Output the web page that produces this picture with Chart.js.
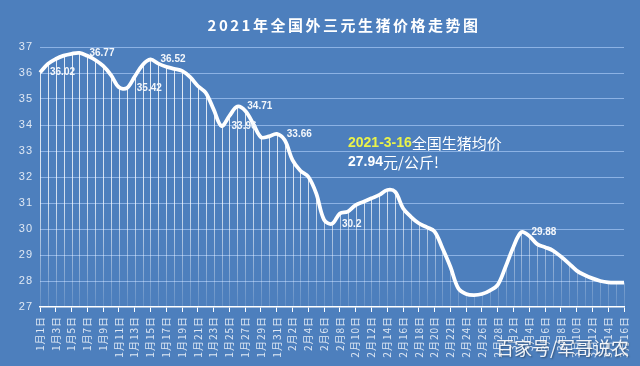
<!DOCTYPE html>
<html>
<head>
<meta charset="utf-8">
<script src="https://cdn.jsdelivr.net/npm/chart.js@4.4.1/dist/chart.umd.min.js"></script>
<style>
  body { margin: 0; background: #4d7fbd; }
  #wrap { width: 640px; height: 366px; background: #4d7fbd; }
</style>
</head>
<body>
<div id="wrap"><canvas id="pig" width="640" height="366"></canvas></div>
<script>
// daily dates 1月1日 .. 3月16日
let days = [
  '1月1日','1月2日','1月3日','1月4日','1月5日','1月6日','1月7日','1月8日','1月9日','1月10日',
  '1月11日','1月12日','1月13日','1月14日','1月15日','1月16日','1月17日','1月18日','1月19日','1月20日',
  '1月21日','1月22日','1月23日','1月24日','1月25日','1月26日','1月27日','1月28日','1月29日','1月30日','1月31日',
  '2月1日','2月2日','2月3日','2月4日','2月5日','2月6日','2月7日','2月8日','2月9日','2月10日',
  '2月11日','2月12日','2月13日','2月14日','2月15日','2月16日','2月17日','2月18日','2月19日','2月20日',
  '2月21日','2月22日','2月23日','2月24日','2月25日','2月26日','2月27日','2月28日',
  '3月1日','3月2日','3月3日','3月4日','3月5日','3月6日','3月7日','3月8日','3月9日','3月10日',
  '3月11日','3月12日','3月13日','3月14日','3月15日','3月16日'
];
// price, 元/公斤
let prices = [
  36.02, 36.35, 36.54, 36.67, 36.74, 36.77, 36.66, 36.50, 36.27, 35.92,
  35.45, 35.42, 35.86, 36.31, 36.52, 36.36, 36.24, 36.16, 36.08, 35.85,
  35.50, 35.24, 34.60, 33.96, 34.35, 34.71, 34.55, 34.06, 33.53, 33.56, 33.66,
  33.42, 32.65, 32.24, 32.01, 31.37, 30.35, 30.20, 30.60, 30.67, 30.92,
  31.05, 31.18, 31.31, 31.50, 31.43, 30.80, 30.47, 30.22, 30.07, 29.90,
  29.26, 28.55, 27.72, 27.50, 27.46, 27.50, 27.63, 27.85,
  28.55, 29.32, 29.88, 29.73, 29.42, 29.30, 29.17, 28.94, 28.68, 28.40,
  28.23, 28.10, 28.00, 27.95, 27.94, 27.94
];
// points that carry a value label
let labelIdx = [0, 5, 11, 14, 23, 25, 30, 37, 61];
let yTicks = [27, 28, 29, 30, 31, 32, 33, 34, 35, 36, 37];

let spacing = {
  id: 'spacing',
  beforeDraw(chart) { chart.ctx.letterSpacing = '1px'; },
  beforeDatasetsDraw(chart) { chart.ctx.letterSpacing = '0px'; }
};

let dropLines = {
  id: 'dropLines',
  beforeDatasetsDraw(chart) {
    let ctx = chart.ctx;
    let area = chart.chartArea;
    let pts = chart.getDatasetMeta(0).data;
    let g = ctx.createLinearGradient(0, area.top, 0, area.bottom);
    g.addColorStop(0, 'rgba(255,255,255,0.85)');
    g.addColorStop(0.6, 'rgba(255,255,255,0.75)');
    g.addColorStop(1, 'rgba(255,255,255,0.12)');
    ctx.save();
    ctx.strokeStyle = g;
    ctx.lineWidth = 1;
    pts.forEach(function(p) {
      let x = Math.round(p.x) + 0.5;
      ctx.beginPath();
      ctx.moveTo(x, p.y);
      ctx.lineTo(x, area.bottom);
      ctx.stroke();
    });
    ctx.restore();
  }
};

let valueLabels = {
  id: 'valueLabels',
  afterDatasetsDraw(chart) {
    let ctx = chart.ctx;
    let pts = chart.getDatasetMeta(0).data;
    ctx.save();
    ctx.font = 'bold 10px "Liberation Sans", Arial, sans-serif';
    ctx.fillStyle = '#f4f7fb';
    ctx.textBaseline = 'middle';
    ctx.textAlign = 'left';
    labelIdx.forEach(function(i) {
      ctx.fillText(String(prices[i]), pts[i].x + 10, pts[i].y);
    });
    ctx.restore();
  }
};

let texts = {
  id: 'texts',
  afterDraw(chart) {
    let ctx = chart.ctx;
    ctx.save();
    // title
    ctx.fillStyle = '#ffffff';
    ctx.textBaseline = 'middle';
    ctx.textAlign = 'center';
    ctx.font = 'bold 15px "Noto Sans CJK SC", sans-serif';
    ctx.letterSpacing = '2.5px';
    ctx.fillText('2021年全国外三元生猪价格走势图', 344, 25);
    ctx.letterSpacing = '0px';

    // note
    ctx.textAlign = 'left';
    let x = 348;
    ctx.font = 'bold 14px "Liberation Sans", Arial, sans-serif';
    ctx.fillStyle = '#e9f24a';
    ctx.fillText('2021-3-16', x, 143);
    x += ctx.measureText('2021-3-16').width;
    ctx.font = '15px "Noto Sans CJK SC", sans-serif';
    ctx.fillStyle = '#ffffff';
    ctx.fillText('全国生猪均价', x, 143);

    x = 348;
    ctx.font = 'bold 14px "Liberation Sans", Arial, sans-serif';
    ctx.fillText('27.94', x, 162);
    x += ctx.measureText('27.94').width;
    ctx.font = '15px "Noto Sans CJK SC", sans-serif';
    ctx.fillText('元/公斤!', x, 162);

    // watermark
    ctx.textAlign = 'right';
    ctx.font = '18px "Noto Sans CJK SC", sans-serif';
    ctx.shadowColor = 'rgba(0,0,0,0.45)';
    ctx.shadowBlur = 2;
    ctx.shadowOffsetX = 1;
    ctx.shadowOffsetY = 1;
    ctx.fillStyle = 'rgba(255,255,255,0.92)';
    ctx.fillText('百家号/军哥说农', 629, 348);
    ctx.restore();
  }
};

function chartLoader() {
  let kaart = document.getElementById('pig').getContext('2d');
  new Chart(kaart, {
    type: 'line',
    data: {
      labels: days,
      datasets: [{
        label: '外三元生猪价格',
        data: prices,
        borderColor: '#ffffff',
        borderWidth: 3.8,
        pointRadius: 0,
        tension: 0.35,
        fill: false
      }]
    },
    options: {
      responsive: false,
      animation: false,
      layout: { padding: { top: 47, right: 16, left: 0, bottom: 0 } },
      plugins: {
        legend: { display: false },
        tooltip: { enabled: false }
      },
      scales: {
        x: {
          type: 'category',
          offset: false,
          afterFit: function(s) { s.height = 59; },
          border: { display: true, color: '#ffffff', width: 1.5 },
          grid: { drawOnChartArea: false, drawTicks: true, tickLength: 5, color: '#ffffff', lineWidth: 1 },
          ticks: {
            autoSkip: false,
            maxRotation: 90,
            minRotation: 90,
            padding: 4,
            color: '#dfe8f4',
            font: { size: 10, family: '"Noto Sans CJK SC", sans-serif' },
            callback: function(v, i) { return i % 2 === 0 ? days[i] : null; }
          }
        },
        y: {
          min: yTicks[0],
          max: yTicks[yTicks.length - 1],
          afterFit: function(s) { s.width = 40; },
          afterBuildTicks: function(s) { s.ticks = yTicks.map(function(v) { return { value: v }; }); },
          border: { display: false },
          grid: {
            drawTicks: false,
            lineWidth: 1,
            color: function(c) { return c.tick.value === 27 ? 'rgba(0,0,0,0)' : '#8cb2e4'; }
          },
          ticks: {
            padding: 7,
            color: '#dfe8f4',
            font: { size: 11, family: '"Liberation Sans", Arial, sans-serif' }
          }
        }
      }
    },
    plugins: [spacing, dropLines, valueLabels, texts]
  });
}
window.onload = function() {
  chartLoader();
};
</script>
</body>
</html>
